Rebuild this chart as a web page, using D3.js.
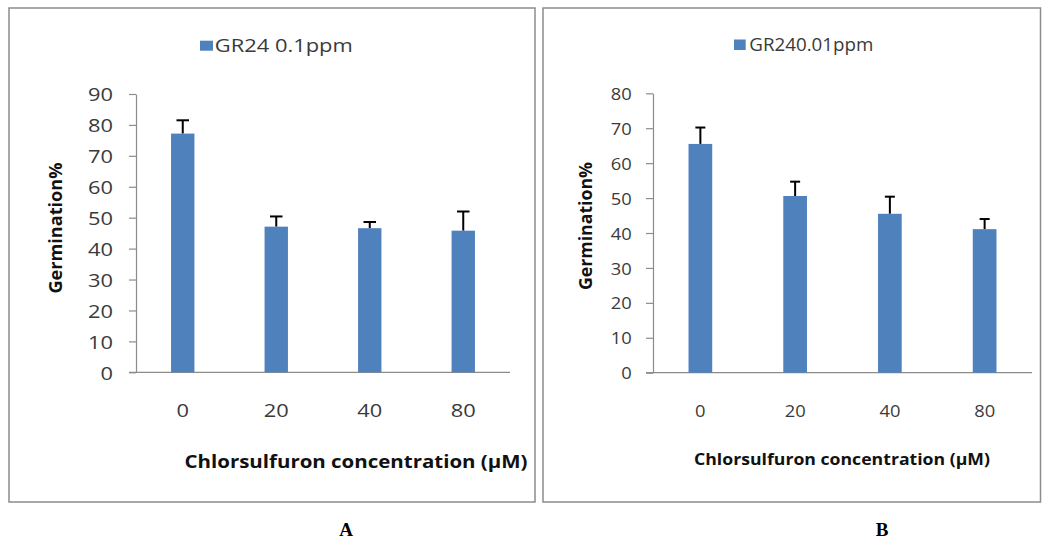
<!DOCTYPE html>
<html>
<head>
<meta charset="utf-8">
<script src="https://cdn.jsdelivr.net/npm/d3@7"></script>
<style>
  body { margin: 0; background: #fff; }
  svg { display: block; }
</style>
</head>
<body>
<div id="chart"></div>
<script>
// data
const categories = ["0", "20", "40", "80"]
const germA = [77.2, 47.1, 46.6, 45.8]
const errA = [4.3, 3.3, 2.0, 6.2]
const germB = [65.5, 50.6, 45.5, 41.1]
const errB = [4.7, 4.1, 4.9, 2.9]
const ticksA = [0, 10, 20, 30, 40, 50, 60, 70, 80, 90]
const ticksB = [0, 10, 20, 30, 40, 50, 60, 70, 80]
const legendA = "GR24 0.1ppm"
const legendB = "GR240.01ppm"
const xTitle = "Chlorsulfuron concentration (\u00B5M)"
const yTitle = "Germination%"

const W = 1042, H = 542
const BAR = "#4F81BD"
const GREY = "#8c8c8c"
const SANS = "'Open Sans', 'Liberation Sans', sans-serif"

const svg = d3.select("#chart").append("svg")
    .attr("width", W)
    .attr("height", H)

const panels = [
  {
    values: germA, errs: errA, ticks: ticksA, max: 90, legend: legendA, label: "A",
    frame: [9, 8, 535, 502], xr: [136, 510], yr: [372.3, 94],
    tickFont: 19, sx: 1.15, labelRight: 23, xLabelBase: 45,
    leg: { x: 200, y: 40.7, w: 13, h: 10, tx: 214.8, ty: 51.5, fs: 18.5, len: 138 },
    xt: { x: 184.5, y: 468, fs: 18, len: 343 },
    yt: { x: 62, y: 228, fs: 18, len: 131 },
    cap: 12.5, labelX: 346
  },
  {
    values: germB, errs: errB, ticks: ticksB, max: 80, legend: legendB, label: "B",
    frame: [543, 8, 1040.5, 502], xr: [653, 1032], yr: [372.7, 93.3],
    tickFont: 17, sx: 1.08, labelRight: 21.3, xLabelBase: 44.5,
    leg: { x: 734, y: 39.5, w: 11.7, h: 10.5, tx: 749.3, ty: 51, fs: 17.5, len: 124 },
    xt: { x: 694, y: 465, fs: 16.5, len: 296 },
    yt: { x: 592, y: 226, fs: 17.5, len: 128 },
    cap: 10, labelX: 882
  }
]

panels.forEach(p => {
  const g = svg.append("g")

  // frame
  g.append("rect")
      .attr("x", p.frame[0]).attr("y", p.frame[1])
      .attr("width", p.frame[2] - p.frame[0])
      .attr("height", p.frame[3] - p.frame[1])
      .attr("fill", "none")
      .attr("stroke", GREY)
      .attr("stroke-width", 1.5)

  const x = d3.scaleBand()
      .domain(categories)
      .range(p.xr)
      .padding(0)

  const y = d3.scaleLinear()
      .domain([0, p.max])
      .range(p.yr)

  // y axis
  const yAxis = g.append("g")
      .attr("transform", `translate(${p.xr[0]},0)`)
      .call(d3.axisLeft(y).tickValues(p.ticks).tickSize(7).tickSizeOuter(0))
  yAxis.select(".domain").attr("stroke", GREY).attr("stroke-width", 1.2)
  yAxis.selectAll(".tick line").attr("stroke", GREY).attr("stroke-width", 1.2)
  yAxis.selectAll(".tick text")
      .attr("x", -p.labelRight / p.sx)
      .attr("dy", "0.36em")
      .attr("transform", `scale(${p.sx},1)`)
      .attr("fill", "#3a3a3a")
      .style("font-family", SANS)
      .style("font-size", p.tickFont + "px")

  // x axis
  const xAxis = g.append("g")
      .attr("transform", `translate(0,${p.yr[0]})`)
      .call(d3.axisBottom(x).tickSize(0).tickSizeOuter(0))
  xAxis.select(".domain").remove()
  xAxis.append("line")
      .attr("x1", p.xr[0] - 7).attr("x2", p.xr[1])
      .attr("stroke", GREY).attr("stroke-width", 1.2)
  xAxis.selectAll(".tick text")
      .attr("y", p.xLabelBase)
      .attr("dy", 0)
      .attr("transform", `scale(${p.sx},1)`)
      .attr("fill", "#3a3a3a")
      .style("font-family", SANS)
      .style("font-size", p.tickFont + "px")
  // keep labels centred after the horizontal stretch
  xAxis.selectAll(".tick").each(function (d) {
    d3.select(this).attr("transform", `translate(${x(d) + x.bandwidth() / 2},0)`)
  })

  const barW = x.bandwidth() * 0.25
  const rows = categories.map((c, i) => ({ c, v: p.values[i], e: p.errs[i] }))

  // error bars (upper only)
  const eb = g.selectAll(".err").data(rows).enter().append("g")
      .attr("stroke", "#000").attr("stroke-width", 2)
  eb.append("line")
      .attr("x1", d => x(d.c) + x.bandwidth() / 2)
      .attr("x2", d => x(d.c) + x.bandwidth() / 2)
      .attr("y1", d => y(d.v))
      .attr("y2", d => y(d.v + d.e))
  eb.append("line")
      .attr("x1", d => x(d.c) + x.bandwidth() / 2 - p.cap / 2)
      .attr("x2", d => x(d.c) + x.bandwidth() / 2 + p.cap / 2)
      .attr("y1", d => y(d.v + d.e))
      .attr("y2", d => y(d.v + d.e))

  // bars
  g.selectAll(".bar").data(rows).enter().append("rect")
      .attr("x", d => x(d.c) + (x.bandwidth() - barW) / 2)
      .attr("y", d => y(d.v))
      .attr("width", barW)
      .attr("height", d => y(0) - y(d.v))
      .attr("fill", BAR)

  // legend
  g.append("rect")
      .attr("x", p.leg.x).attr("y", p.leg.y)
      .attr("width", p.leg.w).attr("height", p.leg.h)
      .attr("fill", BAR)
  g.append("text")
      .attr("x", p.leg.tx).attr("y", p.leg.ty)
      .attr("textLength", p.leg.len)
      .attr("lengthAdjust", "spacingAndGlyphs")
      .attr("fill", "#3a3a3a")
      .style("font-family", SANS)
      .style("font-size", p.leg.fs + "px")
      .text(p.legend)

  // axis titles
  g.append("text")
      .attr("x", p.xt.x).attr("y", p.xt.y)
      .attr("textLength", p.xt.len)
      .attr("lengthAdjust", "spacingAndGlyphs")
      .attr("fill", "#111")
      .style("font-family", SANS)
      .style("font-weight", "bold")
      .style("font-size", p.xt.fs + "px")
      .text(xTitle)

  g.append("text")
      .attr("transform", `translate(${p.yt.x},${p.yt.y}) rotate(-90)`)
      .attr("text-anchor", "middle")
      .attr("textLength", p.yt.len)
      .attr("lengthAdjust", "spacingAndGlyphs")
      .attr("fill", "#111")
      .style("font-family", SANS)
      .style("font-weight", "bold")
      .style("font-size", p.yt.fs + "px")
      .text(yTitle)

  // panel letter
  g.append("text")
      .attr("x", p.labelX).attr("y", 536)
      .attr("text-anchor", "middle")
      .attr("fill", "#000")
      .style("font-family", "'Liberation Serif', 'DejaVu Serif', serif")
      .style("font-weight", "bold")
      .style("font-size", "19px")
      .text(p.label)
})
</script>
</body>
</html>
